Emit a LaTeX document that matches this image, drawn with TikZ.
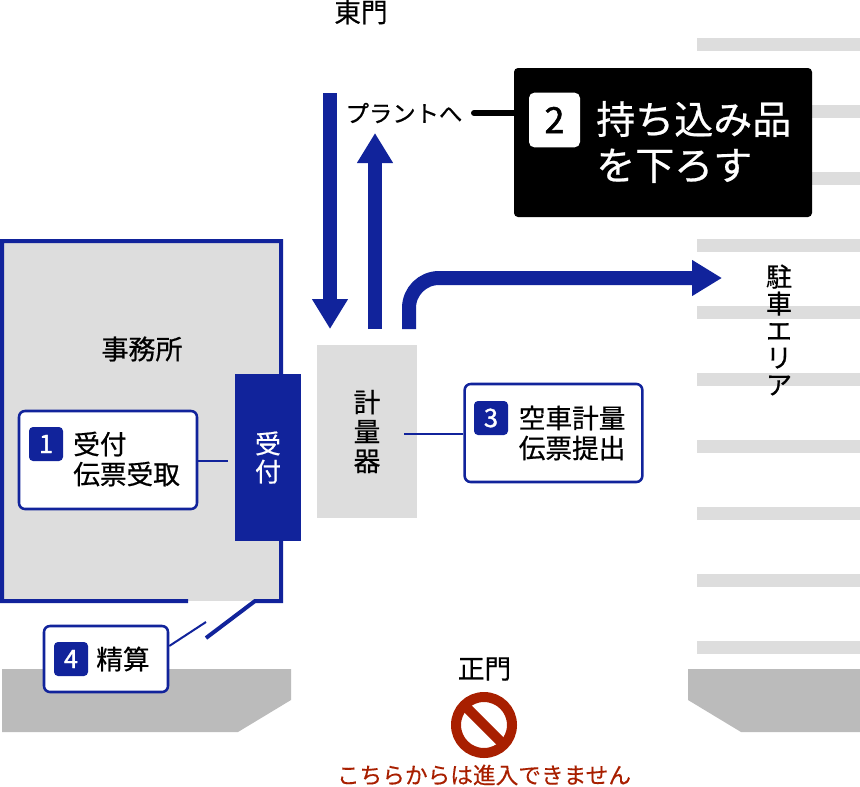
\documentclass[tikz,border=0pt]{standalone}
\usepackage{fontspec}
\setmainfont[FakeBold=0.6]{Noto Sans CJK JP}
\newfontfamily\numfont[FakeBold=1.5]{Noto Sans CJK JP}
\newfontfamily\redfont[FakeBold=0.3]{Noto Sans CJK JP}
\usetikzlibrary{arrows.meta}
\definecolor{routeblue}{HTML}{11239B}
\definecolor{stopred}{HTML}{A81F00}
\definecolor{roadgray}{HTML}{BBBBBB}
\definecolor{lightgray}{HTML}{DDDDDD}
\tikzset{
	label/.style={inner sep=0pt, font=\fontsize{20}{22.5}\selectfont, align=center},
	calltext/.style={inner sep=0pt, anchor=west, align=left, font=\fontsize{20}{22.5}\selectfont},
	callout/.style={draw=routeblue, fill=white, line width=1.9pt, rounded corners=4.5pt, inner sep=0pt},
	badge/.style={fill=routeblue, text=white, rounded corners=3pt, inner sep=0pt, minimum width=25.5pt, minimum height=25.5pt, font=\numfont\fontsize{19}{19}\selectfont},
	route/.style={routeblue, line width=10.5pt, -{Triangle[length=22.5pt, width=25.5pt]}},
	wire/.style={routeblue, line width=1.5pt}
}
\begin{document}
\begin{tikzpicture}[x=0.75pt, y=-0.75pt]
	\useasboundingbox (0,0) rectangle (860,786);

	% Parking stripes
	\foreach \y in {38,105,172,239,306,373,440,507,574,641}
		\fill[lightgray] (697,\y) rectangle (860,\y+13);

	% Road edges
	\fill[roadgray] (2,669) -- (291,669) -- (291,700) -- (238,732) -- (2,732) -- cycle;
	\fill[roadgray] (688,669) -- (860,669) -- (860,732) -- (741,732) -- (688,700) -- cycle;

	% Office
	\fill[lightgray] (0,240) rectangle (283,601);
	\draw[routeblue, line width=3pt] (188,601) -- (2,601) -- (2,241) -- (281,241) -- (281,601) -- (255,601) -- (206,638);
	\node[label, font=\fontsize{20.25}{22.5}\selectfont] (office) at (142,349) {事務所};
	\node[fill=routeblue, text=white, minimum width=49.5pt, minimum height=125.5pt, inner sep=0pt, align=center, font=\fontsize{19.5}{21}\selectfont] (desk) at (268,457.5) {受\\付};

	% Scale
	\node[fill=lightgray, minimum width=75pt, minimum height=130pt, inner sep=0pt, align=center, font=\fontsize{20}{22}\selectfont] (scale) at (367,431.5) {計\\量\\器};

	% Gates
	\node[label] (eastgate) at (361,12) {東門};
	\node[label] (maingate) at (484.5,669) {正門};
	\node[label, font=\redfont\fontsize{17}{20}\selectfont, text=stopred] (noentry) at (484,775) {こちらからは進入できません};
	\draw[stopred, line width=7.5pt] (484,725) circle[radius=28];
	\draw[stopred, line width=7.5pt] (464,705) -- (504,745);

	% Routes
	\coordinate (intop) at (330,93);
	\coordinate (inend) at (330,329);
	\coordinate (upstart) at (375,329);
	\coordinate (uptip) at (375,133);
	\coordinate (parkstart) at (409,329);
	\coordinate (parktip) at (722,278);
	\draw[route] (intop) -- (inend);
	\draw[route] (upstart) -- (uptip);
	\draw[route, rounded corners=22.5pt] (parkstart) |- (parktip);

	% Labels on the routes
	\node[label, font=\fontsize{17.5}{20}\selectfont] (plant) at (404,113) {プラントへ};
	\node[label, font=\fontsize{19.5}{20.25}\selectfont] (parking) at (779,330) {駐\\車\\エ\\リ\\ア};

	% Step 1
	\node[callout, minimum width=133.5pt, minimum height=73.5pt] (call1) at (108,460) {};
	\node[badge] (badge1) at (46,444) {1};
	\node[calltext] (text1) at (73,459) {受付\\伝票受取};
	\coordinate (deskgap) at (228,461);
	\draw[wire] (call1.east |- deskgap) -- (deskgap);

	% Step 2
	\node[fill=black, rounded corners=3pt, minimum width=223.5pt, minimum height=111.75pt, inner sep=0pt] (call2) at (663,142.5) {};
	\node[fill=white, text=black, rounded corners=4pt, minimum width=38.25pt, minimum height=41pt, inner sep=0pt, font=\numfont\fontsize{27}{27}\selectfont] (badge2) at (554.5,120) {2};
	\node[calltext, text=white, font=\fontsize{29.25}{34.5}\selectfont] (text2) at (596,142) {持ち込み品\\を下ろす};
	\coordinate (plantend) at (474,113);
	\draw[black, line width=4.5pt, line cap=round] (call2.west |- plantend) -- (plantend);

	% Step 3
	\node[callout, minimum width=133.25pt, minimum height=73.5pt] (call3) at (553.5,433) {};
	\node[badge] (badge3) at (491,418) {3};
	\node[calltext] (text3) at (518.5,433) {空車計量\\伝票提出};
	\coordinate (scalemid) at (404,434);
	\draw[wire] (call3.west |- scalemid) -- (scalemid);

	% Step 4
	\node[callout, minimum width=93pt, minimum height=49.5pt] (call4) at (106,659) {};
	\node[badge] (badge4) at (71,659) {4};
	\node[calltext] (text4) at (96,659) {精算};
	\coordinate (exitgap) at (206,622);
	\draw[wire] (call4.east |- 0,646) -- (exitgap);
\end{tikzpicture}
\end{document}
